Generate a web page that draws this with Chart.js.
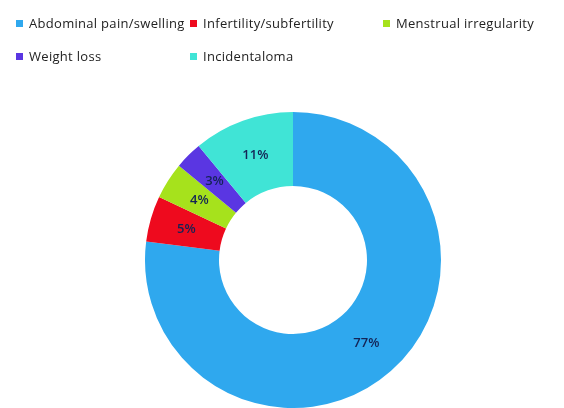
<!DOCTYPE html>
<html lang="en">
<head>
    <meta charset="UTF-8">
    <title>Presenting symptoms</title>
    <script src="https://cdn.jsdelivr.net/npm/chart.js"></script>
    <style>
        body { margin: 0; background: #fff; }
        #wrap { position: relative; width: 564px; height: 408px; }
        #myChart { position: absolute; left: 0; top: 0; }
        .leg { position: absolute; font-family: "Open Sans", sans-serif; font-size: 13px; letter-spacing: 0.3px; color: #222; white-space: nowrap; }
        .leg span { display: inline-block; width: 7px; height: 7px; margin-right: 6px; vertical-align: 1px; }
    </style>
</head>
<body>
<div id="wrap">
    <canvas id="myChart" width="564" height="408"></canvas>
</div>
<script>
    // Data for the chart
    const labels = ['Abdominal pain/swelling', 'Infertility/subfertility', 'Menstrual irregularity', 'Weight loss', 'Incidentaloma'];
    const percentValues = [77, 5, 4, 3, 11];
    const colours = ['#2FA8EE', '#EE0A1E', '#A6E21C', '#5A36E2', '#40E4D6'];

    // legend laid out on a 3-column grid like the original
    const legendPos = [[16, 14], [190, 14], [383, 14], [16, 47], [190, 47]];
    const wrap = document.getElementById('wrap');
    labels.forEach((lab, i) => {
        const d = document.createElement('div');
        d.className = 'leg';
        d.style.left = legendPos[i][0] + 'px';
        d.style.top = legendPos[i][1] + 'px';
        d.innerHTML = '<span style="background:' + colours[i] + '"></span>' + lab;
        wrap.appendChild(d);
    });

    const ctx = document.getElementById('myChart').getContext('2d');
    new Chart(ctx, {
        type: 'doughnut',
        data: {
            labels: labels,
            datasets: [{
                data: percentValues,
                backgroundColor: colours,
                borderWidth: 0
            }]
        },
        options: {
            responsive: false,
            animation: false,
            cutout: '50%',
            layout: { padding: { top: 112, left: 22, right: 0, bottom: 0 } },
            plugins: {
                legend: { display: false },
                tooltip: { enabled: false }
            }
        },
        plugins: [{
            afterDatasetsDraw: function(chart) {
                const c = chart.ctx;
                const meta = chart.getDatasetMeta(0);
                c.save();
                c.font = '600 13px "Open Sans", sans-serif';
                c.fillStyle = '#142456';
                c.textAlign = 'center';
                c.textBaseline = 'middle';
                meta.data.forEach((arc, i) => {
                    const p = arc.tooltipPosition();
                    c.fillText(percentValues[i] + '%', p.x, p.y);
                });
                c.restore();
            }
        }]
    });
</script>
</body>
</html>
